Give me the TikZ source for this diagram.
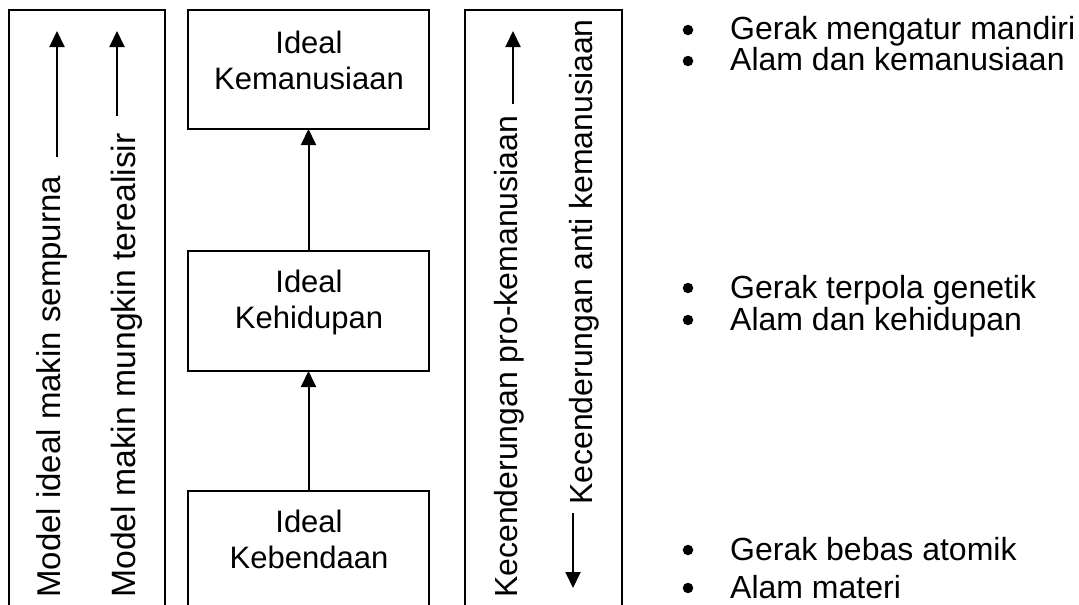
\documentclass[tikz,border=0pt]{standalone}
\usepackage{fontspec}
\setmainfont{Liberation Sans}
\usetikzlibrary{arrows.meta}
\begin{document}
\begin{tikzpicture}[x=1pt,y=-1pt,
  frame/.style={draw, line width=2pt, outer sep=0pt, inner sep=0pt, anchor=north west, minimum height=700pt},
  idealbox/.style={draw, line width=2pt, outer sep=0pt, inner sep=0pt, minimum width=241pt},
  boxtext/.style={anchor=base, inner sep=0pt, font=\fontsize{31}{36}\selectfont},
  arr/.style={line width=2pt, -{Triangle[width=15pt,length=16pt]}},
  vtext/.style={rotate=90, anchor=base west, inner sep=0pt},
  bulletdot/.style={circle, fill=black, inner sep=0pt, minimum size=10.5pt},
  btext/.style={anchor=base west, inner sep=0pt, font=\fontsize{32}{38}\selectfont}
]
\clip (0,0) rectangle (1079,605);
\fill[white] (0,0) rectangle (1079,605);

% left frame
\node[frame, minimum width=156pt] (lf) at (9,10) {};
\node[vtext, font=\fontsize{33}{40}\selectfont] (m1) at (60,598) {Model ideal makin sempurna};
\node[vtext, font=\fontsize{33.7}{40}\selectfont] (m2) at (135,598) {Model makin mungkin terealisir};
\coordinate (m1s) at (57,157);
\coordinate (m1e) at (57,31);
\coordinate (m2s) at (117,116);
\coordinate (m2e) at (117,31);
\draw[arr] (m1s) -- (m1e);
\draw[arr] (m2s) -- (m2e);

% middle boxes
\node[idealbox, minimum height=119pt] (b1) at (308.5,69.5) {};
\node[idealbox, minimum height=120pt] (b2) at (308.5,311) {};
\node[idealbox, minimum height=200pt] (b3) at (308.5,591) {};
\node[boxtext] (b1a) at (309,53) {Ideal};
\node[boxtext] (b1b) at (309,89) {Kemanusiaan};
\node[boxtext] (b2a) at (309,292) {Ideal};
\node[boxtext] (b2b) at (309,328) {Kehidupan};
\node[boxtext] (b3a) at (309,532) {Ideal};
\node[boxtext] (b3b) at (309,568) {Kebendaan};
\draw[arr] (b3.north) -- (b2.south);
\draw[arr] (b2.north) -- (b1.south);

% right frame
\node[frame, minimum width=157pt] (rf) at (465,10) {};
\node[vtext, font=\fontsize{32}{38}\selectfont] (k1) at (517,598) {Kecenderungan pro-kemanusiaan};
\node[vtext, font=\fontsize{32}{38}\selectfont] (k2) at (592,505) {Kecenderungan anti kemanusiaan};
\coordinate (k1s) at (513,104);
\coordinate (k1e) at (513,31);
\coordinate (k2s) at (573,513);
\coordinate (k2e) at (573,588);
\draw[arr] (k1s) -- (k1e);
\draw[arr] (k2s) -- (k2e);

% bullet lists
\node[bulletdot] (p1) at (688,30) {};
\node[btext] (t1) at (730,39) {Gerak mengatur mandiri};
\node[bulletdot] (p2) at (688,61) {};
\node[btext] (t2) at (730,70) {Alam dan kemanusiaan};
\node[bulletdot] (p3) at (688,288) {};
\node[btext] (t3) at (730,298) {Gerak terpola genetik};
\node[bulletdot] (p4) at (688,320) {};
\node[btext] (t4) at (730,330) {Alam dan kehidupan};
\node[bulletdot] (p5) at (688,550) {};
\node[btext] (t5) at (730,560) {Gerak bebas atomik};
\node[bulletdot] (p6) at (688,588) {};
\node[btext] (t6) at (730,598) {Alam materi};
\end{tikzpicture}
\end{document}
